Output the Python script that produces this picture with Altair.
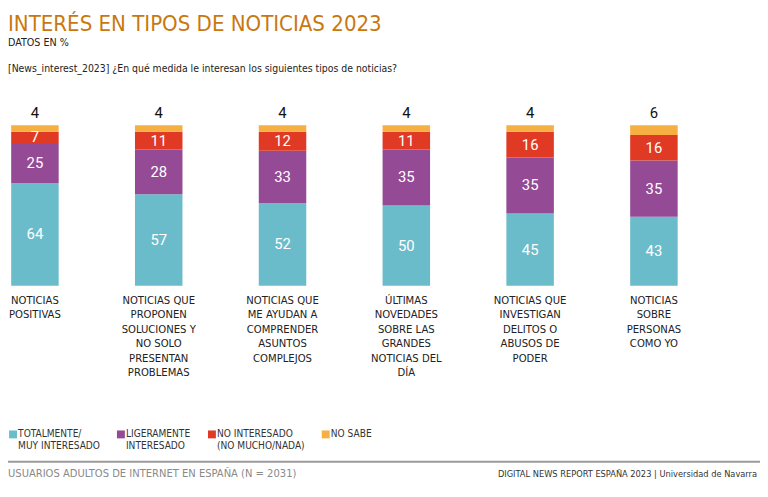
import altair as alt
import pandas as pd

cat_lines = [
    ["NOTICIAS", "POSITIVAS"],
    ["NOTICIAS QUE", "PROPONEN", "SOLUCIONES Y", "NO SOLO", "PRESENTAN", "PROBLEMAS"],
    ["NOTICIAS QUE", "ME AYUDAN A", "COMPRENDER", "ASUNTOS", "COMPLEJOS"],
    ["ÚLTIMAS", "NOVEDADES", "SOBRE LAS", "GRANDES", "NOTICIAS DEL", "DÍA"],
    ["NOTICIAS QUE", "INVESTIGAN", "DELITOS O", "ABUSOS DE", "PODER"],
    ["NOTICIAS", "SOBRE", "PERSONAS", "COMO YO"],
]
series = ["TOTALMENTE/|MUY INTERESADO", "LIGERAMENTE|INTERESADO",
          "NO INTERESADO|(NO MUCHO/NADA)", "NO SABE|"]
colors = ["#6BBCCB", "#954A95", "#E03A24", "#F5AF42"]

totalmente = [64, 57, 52, 50, 45, 43]
ligeramente = [25, 28, 33, 35, 35, 35]
no_interesado = [7, 11, 12, 11, 16, 16]
no_sabe = [4, 4, 4, 4, 4, 6]

title_txt = "INTERÉS EN TIPOS DE NOTICIAS 2023"
sub_txt = "DATOS EN %"
question_txt = "[News_interest_2023] ¿En qué medida le interesan los siguientes tipos de noticias?"
footer_left = "USUARIOS ADULTOS DE INTERNET EN ESPAÑA (N = 2031)"
footer_right = "DIGITAL NEWS REPORT ESPAÑA 2023 | Universidad de Navarra"

cats = ["|".join(c) for c in cat_lines]
rows = []
for i, c in enumerate(cats):
    for j, (s, vals) in enumerate(zip(series, [totalmente, ligeramente, no_interesado, no_sabe])):
        rows.append({"cat": c, "serie": s, "value": vals[i], "order": j})
df = pd.DataFrame(rows)

COND = "Liberation Sans Narrow, DejaVu Sans Condensed, Open Sans"
NUM = "Roboto"

PL = 3
W, H = 674, 162

base = alt.Chart(df).transform_stack(
    stack="value", groupby=["cat"], as_=["y0", "y1"], offset="normalize",
    sort=[alt.SortField("order")]
).transform_calculate(mid="(datum.y0 + datum.y1) / 2")

xenc = alt.X("cat:N", sort=cats,
             scale=alt.Scale(paddingInner=0.613, paddingOuter=0),
             axis=alt.Axis(title=None, labelExpr="split(datum.label, '|')", labelAngle=0,
                           labelBaseline="top", labelPadding=9, labelLineHeight=14.6,
                           labelFont=COND, labelFontSize=11.3, labelColor="#222",
                           domain=False, ticks=False, labelLimit=0))
yscale = alt.Scale(domain=[0, 1])

bars = base.mark_bar(size=48).encode(
    x=xenc,
    y=alt.Y("y0:Q", scale=yscale, axis=None),
    y2="y1:Q",
    color=alt.Color("serie:N", sort=series,
                    scale=alt.Scale(domain=series, range=colors),
                    legend=alt.Legend(title=None, orient="none", legendX=-PL, legendY=307,
                                      direction="horizontal", columns=4, columnPadding=16,
                                      symbolType="square", symbolSize=64, symbolStrokeWidth=0,
                                      symbolOpacity=1,
                                      labelExpr="split(datum.label, '|')", labelFont=COND,
                                      labelFontSize=10.2, labelColor="#333", labelLimit=0,
                                      labelOffset=0)),
)

inner = base.transform_filter(alt.datum.order < 3).mark_text(
    color="white", font=NUM, fontSize=15, baseline="middle"
).encode(x=alt.X("cat:N", sort=cats), y=alt.Y("mid:Q", scale=yscale), text="value:Q")

top = base.transform_filter(alt.datum.order == 3).mark_text(
    color="#111", font=NUM, fontSize=15, baseline="middle", dy=-12
).encode(x=alt.X("cat:N", sort=cats), y=alt.Y("y1:Q", scale=yscale), text="value:Q")

one = pd.DataFrame({"k": [0]})


def txt(t, x, y, size, color, font=COND, align="left", baseline="middle"):
    return alt.Chart(one).mark_text(align=align, baseline=baseline, font=font,
                                    fontSize=size, color=color).encode(
        x=alt.value(x), y=alt.value(y), text=alt.value(t))


title = txt(title_txt, -PL, -95, 22.3, "#C8780F", baseline="alphabetic")
sub = txt(sub_txt, -PL, -83, 10.8, "#222")
question = txt(question_txt, -PL, -57, 10.5, "#222")
rule = alt.Chart(one).mark_rule(color="#9a9a9a", strokeWidth=2).encode(
    x=alt.value(-12), x2=alt.value(770), y=alt.value(340))
fl = txt(footer_left, -PL, 352, 11.2, "#8a8a8a")
fr = txt(footer_right, 757 - PL, 352, 9.3, "#333", align="right")

chart = alt.layer(bars, inner, top, title, sub, question, rule, fl, fr).properties(
    width=W, height=H,
    autosize=alt.AutoSizeParams(type="none"),
    padding={"left": PL, "top": 116, "right": 760 - PL - W, "bottom": 489 - 116 - H},
).configure_view(stroke=None)

chart.save("out.html", embed_options={"renderer": "svg", "actions": False})
